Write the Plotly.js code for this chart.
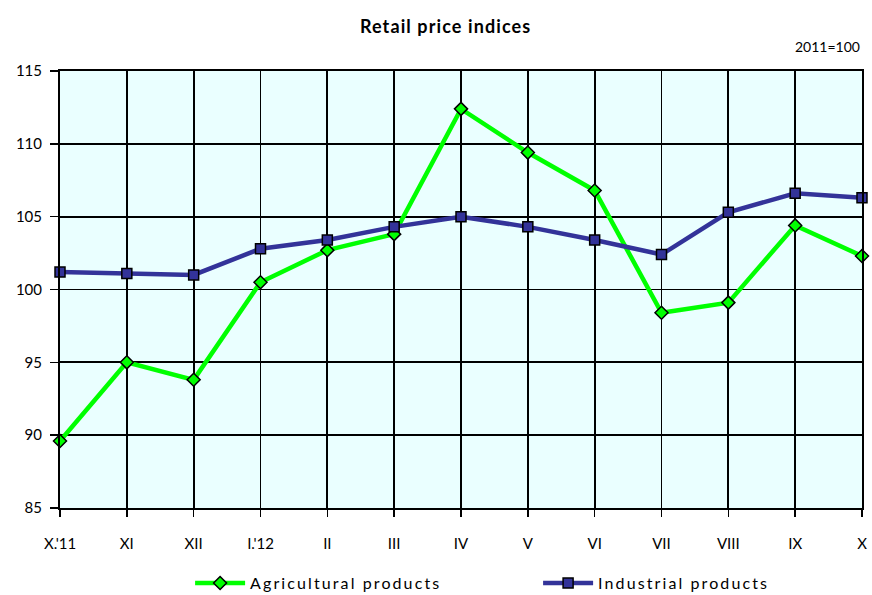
<!DOCTYPE html>
<html>
<head>
<meta charset="utf-8">
<script src="https://cdn.plot.ly/plotly-3.0.1.min.js"></script>
<style>
html, body { margin: 0; padding: 0; background: #fff; }
#chart { width: 872px; height: 595px; }
.legendtext { letter-spacing: 2.1px; }
.gtitle { letter-spacing: 1.1px; }
</style>
</head>
<body>
<div id="chart"></div>
<script>
const categories = ["X.'11", "XI", "XII", "I.'12", "II", "III", "IV", "V", "VI", "VII", "VIII", "IX", "X"];
const agricultural = [89.6, 95.0, 93.8, 100.5, 102.7, 103.8, 112.4, 109.4, 106.8, 98.4, 99.1, 104.4, 102.3];
const industrial = [101.2, 101.1, 101.0, 102.8, 103.4, 104.3, 105.0, 104.3, 103.4, 102.4, 105.3, 106.6, 106.3];
const yTicks = [85, 90, 95, 100, 105, 110, 115];

const FONT = "Lato, Carlito, 'Open Sans', sans-serif";

const traces = [
  {
    x: categories, y: agricultural, name: "Agricultural products",
    type: "scatter", mode: "lines+markers", cliponaxis: false,
    line: { color: "#00FF00", width: 4.5 },
    marker: { symbol: "diamond", size: 10, color: "#00FF00", line: { color: "#000", width: 1.5 } }
  },
  {
    x: categories, y: industrial, name: "Industrial products",
    type: "scatter", mode: "lines+markers", cliponaxis: false,
    line: { color: "#333399", width: 4.5 },
    marker: { symbol: "square", size: 10, color: "#333399", line: { color: "#000", width: 1.5 } }
  }
];

const layout = {
  width: 872, height: 595,
  margin: { l: 60, r: 10, t: 71, b: 87 },
  paper_bgcolor: "#fff",
  plot_bgcolor: "#EAFFFF",
  font: { family: FONT, size: 15, color: "#000" },
  title: {
    text: "<b>Retail price indices</b>",
    font: { family: FONT, size: 18, color: "#000" },
    xref: "container", x: 0.511, xanchor: "center",
    yref: "container", y: 0.955, yanchor: "middle"
  },
  xaxis: {
    type: "category", range: [0, 12],
    showgrid: true, gridcolor: "#000", gridwidth: 1.8,
    showline: true, linecolor: "#000", linewidth: 2, mirror: true,
    ticks: "outside", ticklen: 7, tickwidth: 1.5, tickcolor: "#000",
    ticklabelstandoff: 14,
    tickfont: { family: FONT, size: 15 },
    zeroline: false
  },
  yaxis: {
    range: [85, 115], tickvals: yTicks,
    showgrid: true, gridcolor: "#000", gridwidth: 1.8,
    showline: true, linecolor: "#000", linewidth: 2, mirror: true,
    ticks: "outside", ticklen: 8, tickwidth: 1.5, tickcolor: "#000",
    ticklabelstandoff: 5,
    tickfont: { family: FONT, size: 15 },
    zeroline: false
  },
  showlegend: true,
  legend: {
    orientation: "h",
    xref: "container", yref: "container",
    x: 0.218, xanchor: "left",
    y: 0.02, yanchor: "middle",
    itemwidth: 50,
    entrywidth: 283,
    font: { family: FONT, size: 16, color: "#000" },
    bgcolor: "rgba(0,0,0,0)"
  },
  annotations: [
    {
      text: "2011=100", xref: "paper", yref: "paper",
      x: 1, xanchor: "right", y: (508 - 47) / 437, yanchor: "middle",
      showarrow: false, font: { family: FONT, size: 14, color: "#000" }
    }
  ]
};

Plotly.newPlot("chart", traces, layout, { displayModeBar: false, staticPlot: true });
</script>
</body>
</html>
